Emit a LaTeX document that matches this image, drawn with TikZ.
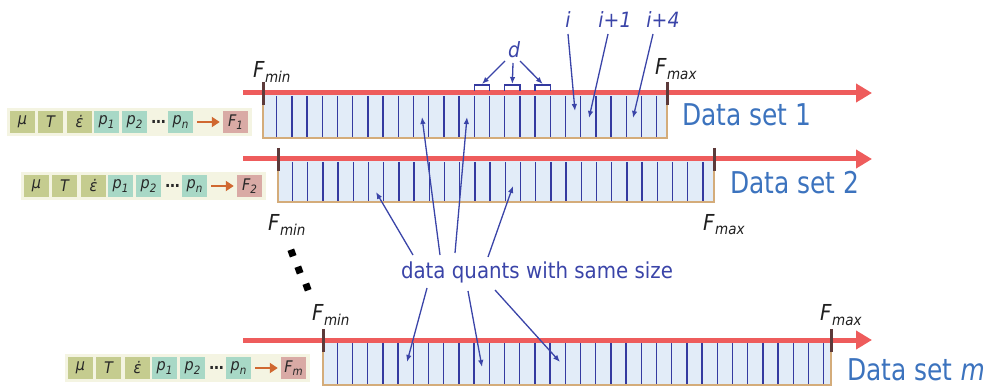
\documentclass[tikz,border=0pt]{standalone}
\usepackage{fontspec}
\setmainfont{DejaVu Sans}[FakeStretch=0.9]
\newfontfamily\setfamily{DejaVu Sans}[FakeStretch=0.83]
\usetikzlibrary{arrows.meta,calc}

\definecolor{axisred}{RGB}{238,92,92}
\definecolor{tickbrown}{RGB}{92,58,58}
\definecolor{cellfill}{RGB}{226,236,248}
\definecolor{bartan}{RGB}{212,172,122}
\definecolor{cellnavy}{RGB}{52,58,160}
\definecolor{quantblue}{RGB}{58,68,168}
\definecolor{setblue}{RGB}{60,115,190}
\definecolor{parambg}{RGB}{244,244,226}
\definecolor{paramolive}{RGB}{197,204,143}
\definecolor{paramteal}{RGB}{168,216,198}
\definecolor{parampink}{RGB}{217,170,165}
\definecolor{paramorange}{RGB}{208,104,48}
\definecolor{paramtext}{RGB}{40,40,40}

% F with a lowered subscript
\newcommand\Flab[1]{F\kern0.5pt\raisebox{-5pt}{\fontsize{15}{15}\selectfont #1}}
% small lowered index for the parameter boxes
\newcommand\psub[2]{#1\raisebox{-3.5pt}{\fontsize{11.5}{11.5}\selectfont #2}}

% one row of input parameters: name, left x of first box, centre y, F index
\newcommand\paramrow[4]{%
  \node[pbg, anchor=west] (#1bg) at (#2-3,#3) {};
  \node[pbox, fill=paramolive] (#1mu)  at (#2+12.5,#3) {μ};
  \node[pbox, fill=paramolive] (#1T)   at (#2+40.5,#3) {T};
  \node[pbox, fill=paramolive] (#1eps) at (#2+69.5,#3) {ε̇};
  \node[pbox, fill=paramteal]  (#1p1)  at (#2+96.5,#3) {\psub{p}{1}};
  \node[pbox, fill=paramteal]  (#1p2)  at (#2+124.5,#3) {\psub{p}{2}};
  \node[pbox] (#1dots) at (#2+148.5,#3) {\upshape\bfseries …};
  \node[pbox, fill=paramteal]  (#1pn)  at (#2+170.5,#3) {\psub{p}{n}};
  \node[pbox, fill=parampink]  (#1F)   at (#2+225.5,#3) {\psub{F}{#4}};
  \draw[parrow] (#1pn) -- (#1F);
}

% one data set: name, axis y, bar left, bar right, bar bottom, first cell line, number of lines
\newcommand\datarow[7]{%
  \draw[barbox] (#3,#2) rectangle (#4,#5);
  \foreach \k in {1,...,#7}{%
    \draw[cellline] ({#6+15.2*(\k-1)},#2+3) -- ({#6+15.2*(\k-1)},#5-0.7);}
  \coordinate (#1start) at (243,#2);
  \coordinate (#1end) at (872,#2);
  \draw[axis] (#1start) -- (#1end);
  \coordinate (#1min) at (#3,#2);
  \coordinate (#1max) at (#4,#2);
  \draw[tick] ($(#1min)+(0,-11)$) -- ($(#1min)+(0,12)$);
  \draw[tick] ($(#1max)+(0,-11)$) -- ($(#1max)+(0,12)$);
}

\begin{document}
\begin{tikzpicture}[x=1pt,y=-1pt,
  axis/.style={draw=axisred, line width=5pt, -{Triangle[length=16pt,width=18pt]}},
  tick/.style={draw=tickbrown, line width=3pt},
  barbox/.style={fill=cellfill, draw=bartan, line width=1.2pt},
  cellline/.style={draw=cellnavy, line width=1.4pt},
  pointer/.style={draw=quantblue, line width=1.3pt, -{Latex[length=7pt,width=5.5pt]}},
  bracket/.style={draw=cellnavy, line width=1.3pt},
  flabel/.style={anchor=base west, inner sep=0pt, font=\fontsize{22}{22}\selectfont\itshape, text=black!88},
  setlabel/.style={anchor=base west, inner sep=0pt, font=\setfamily\fontsize{30}{30}\selectfont, text=setblue},
  idx/.style={inner sep=0pt, font=\fontsize{21}{21}\selectfont\itshape, text=quantblue},
  pbg/.style={fill=parambg, minimum width=245pt, minimum height=28pt, inner sep=0pt},
  pbox/.style={minimum width=25pt, minimum height=22pt, inner sep=0pt,
    font=\fontsize{16}{16}\selectfont\itshape, text=paramtext},
  parrow/.style={draw=paramorange, line width=2.2pt, shorten <=4pt, shorten >=3pt,
    -{Triangle[length=8pt,width=10pt]}},
  dotsq/.style={fill=black, minimum size=7pt, inner sep=0pt, rotate=20},
]
\useasboundingbox (0,0) rectangle (1000,387);

% parameter rows
\paramrow{pa}{10}{122}{1}
\paramrow{pb}{24}{186}{2}
\paramrow{pc}{68}{368}{m}

% data sets
\datarow{ra}{93}{263}{667}{138}{276.7}{26}
\datarow{rb}{159}{278}{714}{202}{292.5}{28}
\datarow{rc}{340}{323}{831}{385}{337.3}{33}

% range labels
\node[flabel] (raFmin) at (253,78) {\Flab{min}};
\node[flabel] (raFmax) at (655,75) {\Flab{max}};
\node[flabel] (rbFmin) at (268,231) {\Flab{min}};
\node[flabel] (rbFmax) at (703,230) {\Flab{max}};
\node[flabel] (rcFmin) at (312,320) {\Flab{min}};
\node[flabel] (rcFmax) at (820,320) {\Flab{max}};

% data set names
\node[setlabel] (setA) at (682,126) {Data set 1};
\node[setlabel] (setB) at (730,194) {Data set 2};
\node[setlabel] (setC) at (847,380) {Data set \textit{m}};

% quant size brackets
\draw[bracket] (474.3,91) -- (474.3,85) -- (489.5,85) -- (489.5,91);
\draw[bracket] (504.7,91) -- (504.7,85) -- (519.9,85) -- (519.9,91);
\draw[bracket] (535.1,91) -- (535.1,85) -- (550.3,85) -- (550.3,91);
\coordinate (brA) at (482,84);
\coordinate (brB) at (512.3,84);
\coordinate (brC) at (542.7,84);
\node[idx] (dlab) at (514,50) {d};
\draw[pointer] (505,61) -- (brA);
\draw[pointer] (513,63) -- (brB);
\draw[pointer] (520,61) -- (brC);

% cell indices
\node[idx] (ilab) at (568,20) {i};
\node[idx] (i1lab) at (615,20) {i+1};
\node[idx] (i4lab) at (663,20) {i+4};
\coordinate (cellI) at (575,111);
\coordinate (cellI1) at (589,118);
\coordinate (cellI4) at (633,118);
\draw[pointer] (568,34) -- (cellI);
\draw[pointer] (608,34) -- (cellI1);
\draw[pointer] (653,34) -- (cellI4);

% ellipsis between data sets
\node[dotsq] (ell1) at (292,253) {};
\node[dotsq] (ell2) at (299,270) {};
\node[dotsq] (ell3) at (307,287) {};

% common caption and its pointers
\node[inner sep=0pt, text=quantblue, font=\fontsize{22}{22}\selectfont] (dq) at (537,272)
  {data quants with same size};
\coordinate (upA) at (413,255);
\coordinate (upB) at (440,255);
\coordinate (upC) at (455,253);
\coordinate (upD) at (488,257);
\coordinate (dnA) at (427,288);
\coordinate (dnB) at (468,291);
\coordinate (dnC) at (495,290);
\coordinate (qB1) at (376,192);
\coordinate (qA1) at (422,117);
\coordinate (qA2) at (467,117);
\coordinate (qB2) at (513,186);
\coordinate (qC1) at (407,362);
\coordinate (qC2) at (482,367);
\coordinate (qC3) at (560,362);
\draw[pointer] (upA) -- (qB1);
\draw[pointer] (upB) -- (qA1);
\draw[pointer] (upC) -- (qA2);
\draw[pointer] (upD) -- (qB2);
\draw[pointer] (dnA) -- (qC1);
\draw[pointer] (dnB) -- (qC2);
\draw[pointer] (dnC) -- (qC3);
\end{tikzpicture}
\end{document}
